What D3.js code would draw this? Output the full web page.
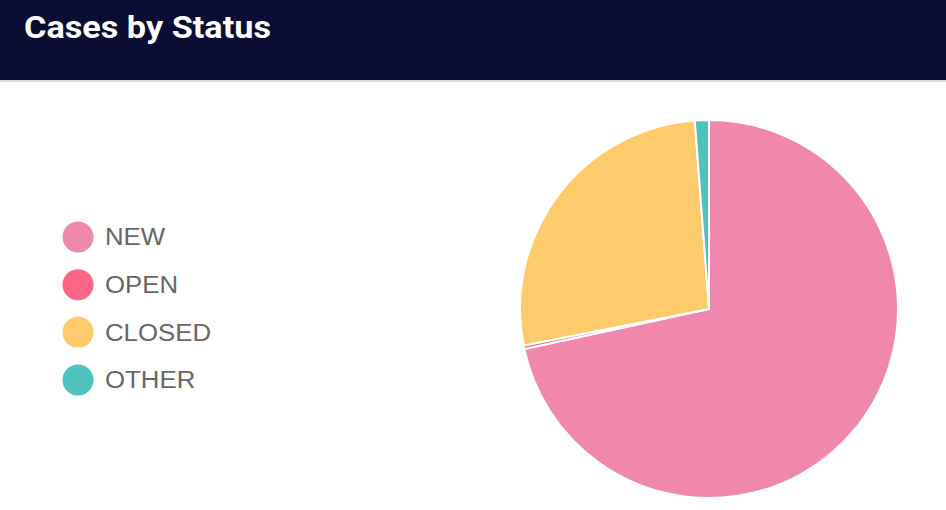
<!DOCTYPE html>
<html>
<head>
<meta charset="utf-8">
<script src="https://cdn.jsdelivr.net/npm/d3@7/dist/d3.min.js"></script>
<style>
  html, body { margin: 0; padding: 0; background: #fff; }
  svg { display: block; }
</style>
</head>
<body>
<svg id="chart" width="946" height="510"></svg>
<script>
const title = "Cases by Status";
const categories = ["NEW", "OPEN", "CLOSED", "OTHER"];
const values = [716, 3, 269, 12];
const colors = ["#f088ae", "#fd6585", "#fdcb6b", "#4fc2bf"];

const W = 946, H = 510;
const svg = d3.select("#chart");

// header band
svg.append("rect").attr("x", 0).attr("y", 0).attr("width", W).attr("height", 80).attr("fill", "#0a0c33");
svg.append("rect").attr("x", 0).attr("y", 80).attr("width", W).attr("height", 2).attr("fill", "#d8d8de");
svg.append("text")
  .attr("x", 24).attr("y", 38)
  .attr("font-family", "Roboto, 'Liberation Sans', sans-serif")
  .attr("font-weight", "bold")
  .attr("font-size", 32)
  .attr("textLength", 247)
  .attr("lengthAdjust", "spacingAndGlyphs")
  .attr("fill", "#ffffff")
  .text(title);

// pie
const cx = 709, cy = 309, r = 189;
const data = categories.map((c, i) => ({ name: c, value: values[i], color: colors[i] }));
const pie = d3.pie().value(d => d.value).sort(null);
const arc = d3.arc().innerRadius(0).outerRadius(r);
const g = svg.append("g").attr("transform", `translate(${cx},${cy})`);
g.selectAll("path")
  .data(pie(data))
  .join("path")
  .attr("d", arc)
  .attr("fill", d => d.data.color)
  .attr("stroke", "#ffffff")
  .attr("stroke-width", 2)
  .attr("stroke-linejoin", "miter");

// legend
const legendY = d3.scalePoint().domain(categories).range([237, 380]);
const lg = svg.append("g");
const items = lg.selectAll("g").data(data).join("g")
  .attr("transform", d => `translate(0,${legendY(d.name)})`);
items.append("circle").attr("cx", 78).attr("cy", 0).attr("r", 15.5).attr("fill", d => d.color);
items.append("text")
  .attr("transform", "translate(105,0) scale(1.075,1)")
  .attr("x", 0).attr("y", 0).attr("dy", "0.35em")
  .attr("font-family", "'Liberation Sans', Arial, sans-serif")
  .attr("font-size", 24)
  .attr("fill", "#666666")
  .text(d => d.name);
</script>
</body>
</html>
